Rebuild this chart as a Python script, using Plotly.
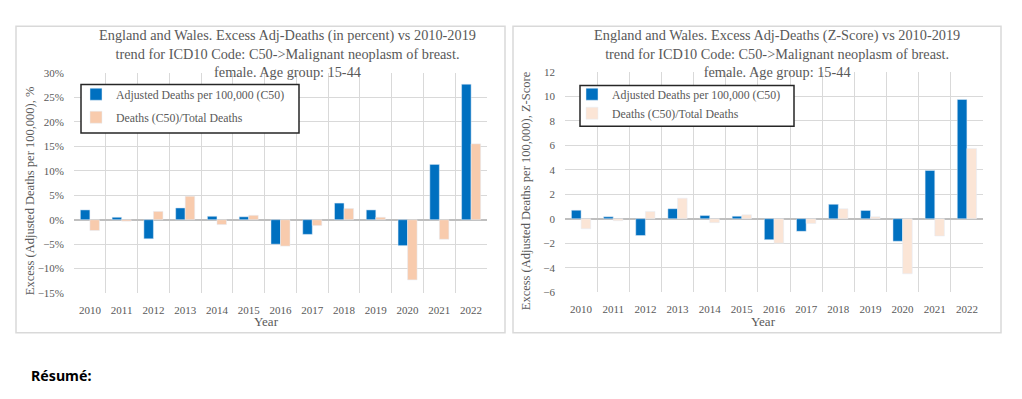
import plotly.graph_objects as go

years = ["2010", "2011", "2012", "2013", "2014", "2015", "2016", "2017", "2018", "2019", "2020", "2021", "2022"]

# Left chart: excess in percent
pct_adjusted = [2.0, 0.5, -3.9, 2.4, 0.7, 0.6, -5.0, -3.0, 3.4, 2.0, -5.3, 11.3, 27.7]
pct_ratio = [-2.2, -0.3, 1.7, 4.8, -1.0, 0.9, -5.4, -1.2, 2.3, 0.5, -12.3, -4.0, 15.5]

# Right chart: excess as Z-score
z_adjusted = [0.7, 0.16, -1.37, 0.82, 0.26, 0.21, -1.71, -1.03, 1.18, 0.68, -1.84, 3.95, 9.75]
z_ratio = [-0.82, -0.16, 0.6, 1.68, -0.32, 0.32, -2.0, -0.39, 0.82, 0.16, -4.5, -1.42, 5.75]

name_adj = "Adjusted Deaths per 100,000 (C50)"
name_ratio = "Deaths (C50)/Total Deaths"

title_left = ("England and Wales. Excess Adj-Deaths (in percent) vs 2010-2019<br>"
              "trend for ICD10 Code: C50->Malignant neoplasm of breast.<br>"
              "female. Age group: 15-44")
title_right = ("England and Wales. Excess Adj-Deaths (Z-Score) vs 2010-2019<br>"
               "trend for ICD10 Code: C50->Malignant neoplasm of breast.<br>"
               "female. Age group: 15-44")

W, H = 1022, 399
BLUE = "#0070C0"
PEACH_L = "#F8CBAD"
PEACH_R = "#FBE5D6"
GRAY_TXT = "#595959"
GRID = "#D9D9D9"
SERIF = "Liberation Serif"


def px(x):
    return x / W


def py(y):
    return 1 - y / H


fig = go.Figure()
fig.add_trace(go.Bar(x=years, y=pct_adjusted, name=name_adj, marker_color=BLUE,
                     xaxis="x", yaxis="y", legend="legend", legendgroup="a"))
fig.add_trace(go.Bar(x=years, y=pct_ratio, name=name_ratio, marker_color=PEACH_L,
                     xaxis="x", yaxis="y", legend="legend", legendgroup="b"))
fig.add_trace(go.Bar(x=years, y=z_adjusted, name=name_adj, marker_color=BLUE,
                     xaxis="x2", yaxis="y2", legend="legend2", legendgroup="c"))
fig.add_trace(go.Bar(x=years, y=z_ratio, name=name_ratio, marker_color=PEACH_R,
                     xaxis="x2", yaxis="y2", legend="legend2", legendgroup="d"))

xcommon = dict(type="category", tickson="boundaries", showgrid=True, gridcolor=GRID,
               gridwidth=1, showline=False, ticks="", zeroline=False,
               tickfont=dict(family=SERIF, size=11, color=GRAY_TXT), ticklabelstandoff=9,
               fixedrange=True)
ycommon = dict(showgrid=True, gridcolor=GRID, gridwidth=1, zeroline=True,
               zerolinecolor="#BFBFBF", zerolinewidth=1.5, showline=False, ticks="",
               tickfont=dict(family=SERIF, size=11, color=GRAY_TXT), ticklabelstandoff=9,
               fixedrange=True)

fig.update_layout(
    width=W, height=H,
    margin=dict(l=0, r=0, t=0, b=0),
    paper_bgcolor="white", plot_bgcolor="white",
    barmode="group", bargap=0.4, bargroupgap=0,
    xaxis=dict(domain=[px(74), px(487)], anchor="y", **xcommon),
    yaxis=dict(domain=[py(296), py(69)], anchor="x", range=[-15, 30], dtick=5,
               ticksuffix="%", **ycommon),
    xaxis2=dict(domain=[px(565), px(983)], anchor="y2", **xcommon),
    yaxis2=dict(domain=[py(295), py(68)], anchor="x2", range=[-6, 12], dtick=2,
                **ycommon),
    legend=dict(x=px(76), y=py(76), xanchor="left", yanchor="top",
                bgcolor="rgba(0,0,0,0)", borderwidth=0, tracegroupgap=4,
                font=dict(family=SERIF, size=11.8, color=GRAY_TXT), itemclick=False),
    legend2=dict(x=px(572), y=py(76), xanchor="left", yanchor="top",
                 bgcolor="rgba(0,0,0,0)", borderwidth=0, tracegroupgap=0,
                 font=dict(family=SERIF, size=11.8, color=GRAY_TXT), itemclick=False),
    showlegend=True,
)

shapes = [
    # chart frames
    dict(type="rect", xref="paper", yref="paper", x0=px(16), x1=px(505), y0=py(337), y1=py(21),
         line=dict(color=GRID, width=1.5), fillcolor="rgba(0,0,0,0)", layer="below"),
    dict(type="rect", xref="paper", yref="paper", x0=px(513), x1=px(1001), y0=py(337), y1=py(21),
         line=dict(color=GRID, width=1.5), fillcolor="rgba(0,0,0,0)", layer="below"),
    # legend boxes
    dict(type="rect", xref="paper", yref="paper", x0=px(81), x1=px(299), y0=py(131), y1=py(81),
         line=dict(color="#262626", width=1.5), fillcolor="white", layer="above"),
    dict(type="rect", xref="paper", yref="paper", x0=px(580), x1=px(794), y0=py(124), y1=py(82),
         line=dict(color="#262626", width=1.5), fillcolor="white", layer="above"),
]
fig.update_layout(shapes=shapes)

annotations = [
    dict(text=title_left, x=px(287), y=py(20), xanchor="center", yanchor="top",
         font=dict(family=SERIF, size=14.3, color=GRAY_TXT)),
    dict(text=title_right, x=px(777), y=py(20), xanchor="center", yanchor="top",
         font=dict(family=SERIF, size=14.3, color=GRAY_TXT)),
    dict(text="Excess (Adjusted Deaths per 100,000), %", x=px(30), y=py(191), textangle=-90,
         xanchor="center", yanchor="middle", font=dict(family=SERIF, size=12.5, color=GRAY_TXT)),
    dict(text="Excess (Adjusted Deaths per 100,000), Z-Score", x=px(526), y=py(191), textangle=-90,
         xanchor="center", yanchor="middle", font=dict(family=SERIF, size=12.5, color=GRAY_TXT)),
    dict(text="Year", x=px(266), y=py(325), xanchor="center", yanchor="middle",
         font=dict(family=SERIF, size=13, color=GRAY_TXT)),
    dict(text="Year", x=px(763), y=py(325), xanchor="center", yanchor="middle",
         font=dict(family=SERIF, size=13, color=GRAY_TXT)),
    dict(text="<b>Résumé:</b>", x=px(29), y=py(381), xanchor="left", yanchor="middle",
         font=dict(family="Noto Sans", size=14.2, color="black")),
]
for a in annotations:
    a.update(xref="paper", yref="paper", showarrow=False)
fig.update_layout(annotations=annotations)

fig.write_html("out.html", config={"displayModeBar": False},
               post_script="document.body.style.margin='0';document.body.style.overflow='hidden';")
